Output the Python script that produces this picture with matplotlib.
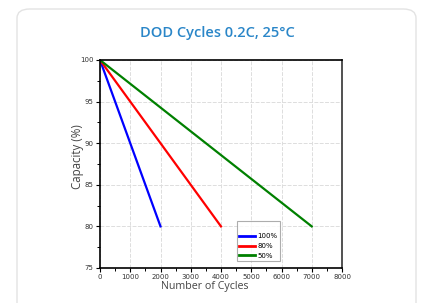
import matplotlib
matplotlib.use("Agg")
import matplotlib.pyplot as plt
from matplotlib.patches import FancyBboxPatch
from matplotlib.ticker import MultipleLocator

series_names = ["100%", "80%", "50%"]
series_colors = ["#0000ff", "#ff0000", "#008000"]
cycles = [[0, 2000], [0, 4000], [0, 7000]]
capacity = [[100, 80], [100, 80], [100, 80]]
x_ticks = [0, 1000, 2000, 3000, 4000, 5000, 6000, 7000, 8000]
y_ticks = [75, 80, 85, 90, 95, 100]

W, H = 423, 303
fig = plt.figure(figsize=(W / 100, H / 100), dpi=100)
fig.patch.set_facecolor("white")

# card
card = FancyBboxPatch((17 / W, -0.1), (416 - 17) / W, (H - 9) / H + 0.1,
                      boxstyle="round,pad=0,rounding_size=0.03",
                      transform=fig.transFigure, facecolor="white",
                      edgecolor="#e3e3e3", linewidth=1.0, zorder=-10)
fig.patches.append(card)

fig.text(217 / W, 1 - 33 / H, "DOD Cycles 0.2C, 25°C", ha="center", va="center",
         fontsize=10.5, fontweight="semibold", color="#2a86c8", family="Open Sans")

ax = fig.add_axes([100 / W, 1 - 268 / H, (342 - 100) / W, (268 - 60) / H])
ax.set_zorder(5)
ax.patch.set_facecolor("white")
for name, col, xs, ys in zip(series_names, series_colors, cycles, capacity):
    ax.plot(xs, ys, color=col, linewidth=1.6, label=name)

ax.set_xlim(0, 8000)
ax.set_ylim(75, 100)
ax.set_xticks(x_ticks)
ax.set_yticks(y_ticks)
ax.xaxis.set_minor_locator(MultipleLocator(500))
ax.yaxis.set_minor_locator(MultipleLocator(2.5))
ax.tick_params(axis="both", which="major", labelsize=5, length=3, width=0.8,
               colors="black", labelcolor="#333333", pad=1.5)
ax.tick_params(axis="both", which="minor", length=2, width=0.7)
ax.grid(True, which="major", linestyle=(0, (4, 1.5)), color="#dddddd", linewidth=0.7)
for name, s in ax.spines.items():
    s.set_linewidth(1.2)
ax.spines["right"].set_color("#333333")

ax.set_ylabel("Capacity (%)", fontsize=8.3, color="#444444", family="Open Sans")
ax.yaxis.set_label_coords((77 - 100) / 242, (268 - 157) / 208)
ax.set_xlabel("Number of Cycles", fontsize=7.7, color="#444444", family="Open Sans")
ax.xaxis.set_label_coords((205 - 100) / 242, -(287 - 268) / 208)
ax.xaxis.label.set_va("center")
ax.yaxis.label.set_va("center")

leg = ax.legend(loc="upper left", bbox_to_anchor=((237 - 100) / 242, (268 - 221) / 208),
                title=" ", title_fontsize=5,
                fontsize=5, frameon=True, fancybox=False, edgecolor="#999999",
                handlelength=2.3, handletextpad=0.3, labelspacing=0.55,
                borderpad=0.35, borderaxespad=0)
leg.get_frame().set_linewidth(0.8)
for ln in leg.get_lines():
    ln.set_linewidth(2.0)

fig.savefig("out.png", dpi=100, facecolor="white")
